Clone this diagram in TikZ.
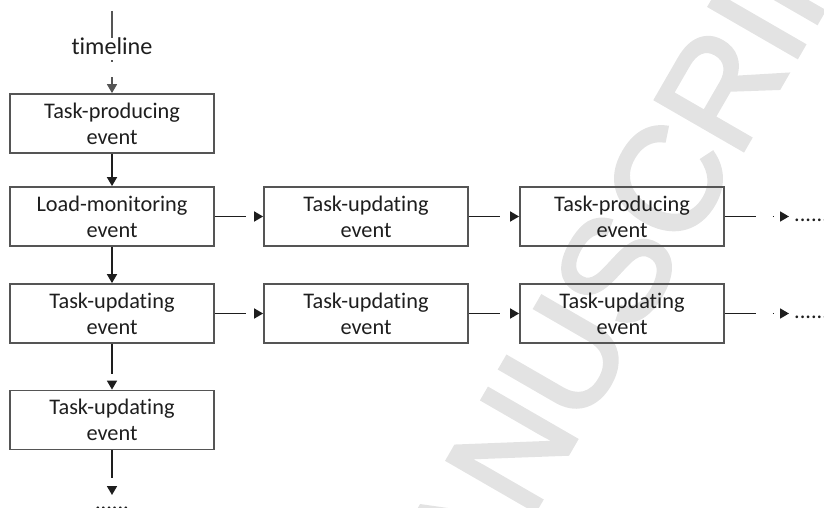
\documentclass[tikz,border=0pt]{standalone}
\usepackage{fontspec}
\setmainfont{Carlito}[Ligatures={NoCommon,NoContextual}]
\newfontfamily\wmfont[FakeBold=2.5]{Liberation Sans}
\usetikzlibrary{arrows.meta}
\definecolor{boxline}{HTML}{555555}
\definecolor{txt}{HTML}{1E1E1E}
\definecolor{arrc}{HTML}{1E1E1E}
\definecolor{tlc}{HTML}{555555}
\definecolor{wm}{HTML}{E3E3E3}
\begin{document}
\begin{tikzpicture}[x=1pt,y=-1pt,
  evbox/.style={draw=boxline, line width=1.8pt, minimum width=204pt, minimum height=59pt,
    inner sep=0pt, text width=200pt, align=center, text=txt,
    font=\fontsize{22.3}{26}\selectfont},
  conn/.style={draw=arrc, line width=1.7pt, -{Triangle[length=9pt,width=10pt]}},
  dotstxt/.style={inner sep=0pt, text=txt, font=\fontsize{22.3}{26}\selectfont},
]
\useasboundingbox (0,0) rectangle (824,508);
% watermark
\begin{scope}
\clip (0,0) rectangle (824,508);
\node[rotate=60, text=wm, font=\wmfont\fontsize{147}{147}\selectfont, inner sep=0pt] (wmark) at (618,266) {MANUSCRIPT};
\end{scope}
% boxes
\node[evbox] (a1) at (112,123.5) {Task-producing\\event};
\node[evbox] (a2) at (112,216.5) {Load-monitoring\\event};
\node[evbox] (a3) at (112,313.5) {Task-updating\\event};
\node[evbox] (a4) at (112,420) {Task-updating\\event};
\node[evbox] (b2) at (366,216.5) {Task-updating\\event};
\node[evbox] (b3) at (366,313.5) {Task-updating\\event};
\node[evbox] (c2) at (622,216.5) {Task-producing\\event};
\node[evbox] (c3) at (622,313.5) {Task-updating\\event};
% timeline
\coordinate (tltop) at (112,11);
\node[anchor=base, inner sep=0pt, text=txt, font=\fontsize{24.2}{29}\selectfont] (tl) at (112,55) {timeline};
\draw[draw=tlc, line width=1.6pt] (tltop) -- (tl.north);
\draw[conn, draw=tlc, line width=1.6pt, dash pattern=on 0pt off 5pt on 2pt off 15pt on 30pt] (tl.south) -- (a1.north);
% vertical
\draw[conn] (a1) -- (a2);
\draw[conn] (a2) -- (a3);
\draw[conn, dash pattern=on 30pt off 40pt] (a3) -- (a4);
\coordinate (dend) at (112,495);
\draw[conn, dash pattern=on 28pt off 40pt] (a4) -- (dend);
\node[dotstxt, anchor=base] (bdots) at (112,509) {......};
% horizontal
\draw[conn, dash pattern=on 31pt off 40pt] (a2) -- (b2);
\draw[conn, dash pattern=on 31pt off 40pt] (b2) -- (c2);
\draw[conn, dash pattern=on 31pt off 40pt] (a3) -- (b3);
\draw[conn, dash pattern=on 31pt off 40pt] (b3) -- (c3);
\coordinate (r2end) at (789,216.5);
\coordinate (r3end) at (789,313.5);
\draw[conn, dash pattern=on 31pt off 17pt on 1.5pt off 30pt] (c2) -- (r2end);
\draw[conn, dash pattern=on 31pt off 17pt on 1.5pt off 30pt] (c3) -- (r3end);
\node[dotstxt, anchor=base west] (r2dots) at (794,221) {......};
\node[dotstxt, anchor=base west] (r3dots) at (794,318) {......};
\end{tikzpicture}
\end{document}
